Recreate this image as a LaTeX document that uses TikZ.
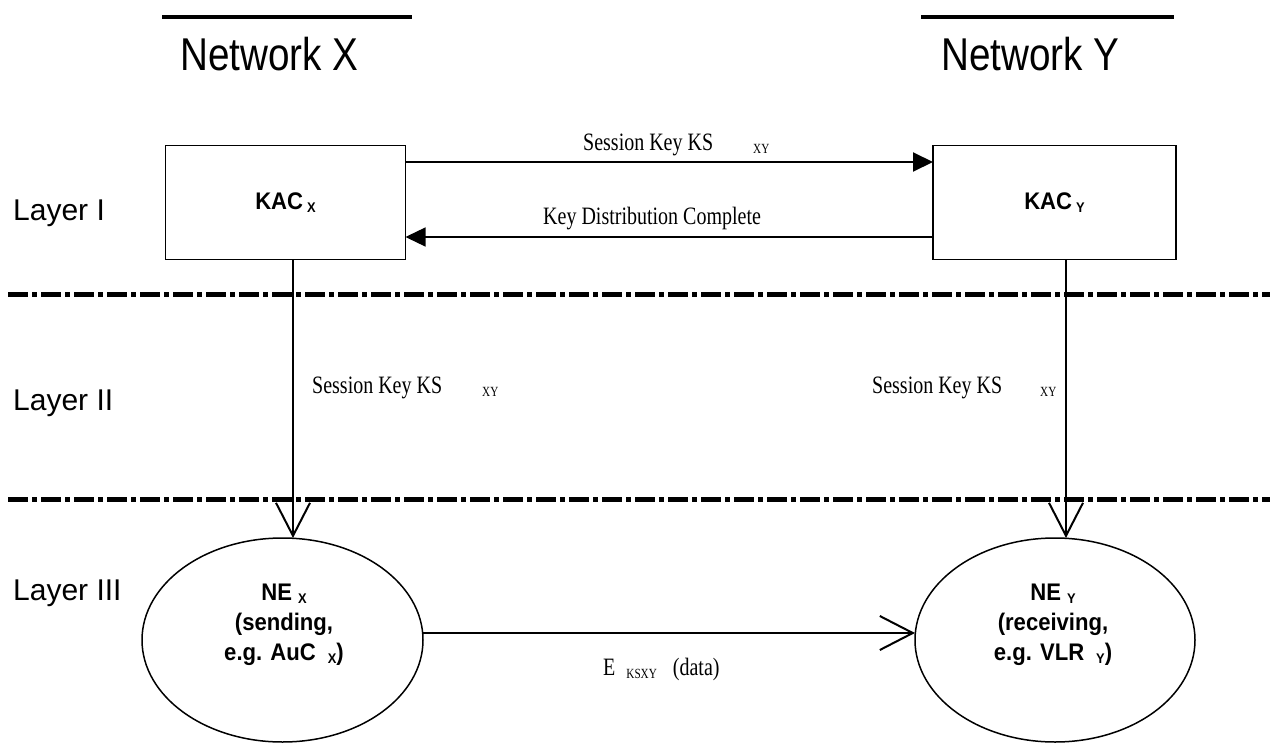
\documentclass[tikz,border=0pt]{standalone}
\usepackage{fontspec}
\usetikzlibrary{arrows.meta,shapes.geometric}
\newfontfamily\titlefont[FakeStretch=0.84]{Liberation Sans}
\newfontfamily\layerfont{Liberation Sans}
\newfontfamily\boxfont[FakeStretch=0.92]{Liberation Sans}
\newfontfamily\keyfont[FakeStretch=0.8]{Liberation Serif}
\newcommand{\lowsub}[2]{\hspace{#1}\raisebox{-3pt}{\fontsize{14}{14}\selectfont #2}}

\begin{document}
\begin{tikzpicture}[x=1pt,y=-1pt,
    kacbox/.style={draw,line width=1.5pt,minimum width=240pt,minimum height=114pt,inner sep=0pt,outer sep=0pt,
      font=\boxfont\bfseries\fontsize{24}{28}\selectfont},
    nebox/.style={draw,ellipse,line width=1.5pt,minimum width=281pt,minimum height=204pt,inner sep=0pt,outer sep=0pt},
    netext/.style={align=center,inner sep=0pt,font=\boxfont\bfseries\fontsize{24}{30}\selectfont},
    layer/.style={anchor=base west,inner sep=0pt,font=\layerfont\fontsize{30}{36}\selectfont},
    network/.style={anchor=base west,inner sep=0pt,font=\titlefont\fontsize{46}{52}\selectfont},
    keylabel/.style={anchor=base west,inner sep=0pt,font=\keyfont\fontsize{25}{30}\selectfont},
    border/.style={line width=5pt,dash pattern=on 20pt off 4pt on 5pt off 4pt},
    solid arrow/.style={-{Triangle[length=20pt,width=19pt]}},
    open arrow/.style={-{Straight Barb[length=33pt,width=34pt]},line width=2pt}]
    \useasboundingbox (0,0) rectangle (1270,744);

    % networks
    \draw[line width=4.5pt] (162,17) -- (412,17);
    \draw[line width=4.5pt] (921,17) -- (1174,17);
    \node[network] (netx) at (180,70) {Network X};
    \node[network] (nety) at (941,70) {Network Y};

    % layers
    \node[layer] (layer1) at (13,220) {Layer I};
    \node[layer] (layer2) at (13,410) {Layer II};
    \node[layer] (layer3) at (13,600) {Layer III};
    \draw[border] (8,294) -- (1270,294);
    \draw[border] (8,499) -- (1270,499);

    \node[kacbox] (kacx) at (285.5,202.5) {KAC\lowsub{4pt}{X}};
    \node[kacbox,minimum width=243pt] (kacy) at (1054.5,202.5) {KAC\lowsub{4pt}{Y}};
    \node[nebox] (nex) at (282.5,640) {};
    \node[nebox,minimum width=280pt] (ney) at (1055,640) {};
    \node[netext] (nextext) at (284,625) {NE\lowsub{6pt}{X}\\(sending,\\e.g. AuC\lowsub{12pt}{X})};
    \node[netext] (neytext) at (1053,625) {NE\lowsub{6pt}{Y}\\(receiving,\\e.g. VLR\lowsub{12pt}{Y})};

    \draw[solid arrow,line width=2pt] ([yshift=-16.5pt]kacx.north east) -- ([yshift=-16.5pt]kacy.north west);
    \draw[solid arrow,line width=1.3pt] ([yshift=22.5pt]kacy.south west) -- ([yshift=22.5pt]kacx.south east);
    \node[keylabel] (kstop) at (583,150) {Session Key KS\lowsub{40pt}{XY}};
    \node[keylabel] (kdc) at (543,224) {Key Distribution Complete};

    \draw[open arrow] ([xshift=7.5pt]kacx.south) -- ([xshift=10.5pt]nex.north);
    \draw[open arrow] ([xshift=11.5pt]kacy.south) -- ([xshift=11pt]ney.north);
    \node[keylabel] (ksx) at (312,393) {Session Key KS\lowsub{40pt}{XY}};
    \node[keylabel] (ksy) at (872,393) {Session Key KS\lowsub{38pt}{XY}};

    \draw[open arrow] ([yshift=7pt]nex.east) -- ([yshift=7pt]ney.west);
    \node[keylabel] (edata) at (603,675) {E\lowsub{11pt}{KSXY}\hspace{16pt}(data)};
\end{tikzpicture}
\end{document}
